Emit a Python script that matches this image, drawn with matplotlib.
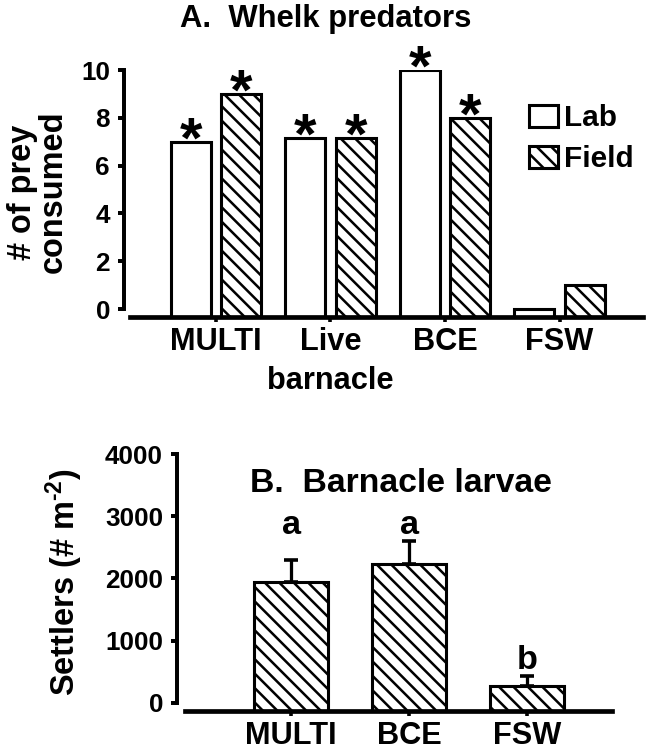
import matplotlib
matplotlib.use('Agg')
import matplotlib.pyplot as plt
import numpy as np
from matplotlib import transforms

# ---------------- data ----------------
# Panel A: whelk predators
cats_a = ['MULTI', 'Live\nbarnacle', 'BCE', 'FSW']
lab_a = [7.0, 7.15, 10.0, 0.0]
field_a = [9.0, 7.15, 8.0, 1.0]
sig_lab = ['*', '*', '*', '']
sig_field = ['*', '*', '*', '']
yticks_a = [0, 2, 4, 6, 8, 10]

# Panel B: barnacle larvae
cats_b = ['MULTI', 'BCE', 'FSW']
settlers = [1940, 2240, 270]
settlers_se = [350, 360, 165]
letters_b = ['a', 'a', 'b']
yticks_b = [0, 1000, 2000, 3000, 4000]

# ---------------- style ----------------
DPI = 130
W, H = 647, 750
plt.rcParams['font.family'] = ['Liberation Sans', 'DejaVu Sans']
plt.rcParams['font.weight'] = 'bold'
plt.rcParams['hatch.linewidth'] = 1.4
plt.rcParams['mathtext.fontset'] = 'custom'
plt.rcParams['mathtext.rm'] = 'Liberation Sans:bold'
plt.rcParams['mathtext.default'] = 'rm'

fig = plt.figure(figsize=(W / DPI, H / DPI), dpi=DPI)
fig.patch.set_facecolor('white')

HATCH = '\\\\\\'
EDGE_LW = 1.7


def fx(p):
    return p / W


def fy(p):
    return 1 - p / H


# ---------------- panel A ----------------
ax1 = fig.add_axes([fx(124), fy(317), fx(643) - fx(124), fy(70) - fy(317)])
xa = np.arange(len(cats_a))
wa = 0.35
off = 0.219
base_a = -0.33
lab_arr = np.array(lab_a)
field_arr = np.array(field_a)
b_lab = ax1.bar(xa - off, lab_arr - base_a, wa, bottom=base_a, facecolor='white',
                edgecolor='black', linewidth=EDGE_LW, label='Lab')
b_field = ax1.bar(xa + off, field_arr - base_a, wa, bottom=base_a, facecolor='white',
                  edgecolor='black', linewidth=EDGE_LW, hatch=HATCH, label='Field')

ax1.set_xlim(-0.803, 3.729)
ax1.set_ylim(base_a, 10)
for s in ['top', 'right']:
    ax1.spines[s].set_visible(False)
ax1.spines['left'].set_bounds(0, 10)
ax1.spines['left'].set_linewidth(2.2)
ax1.spines['bottom'].set_bounds(-0.752, 3.729)
ax1.spines['bottom'].set_linewidth(2.6)
ax1.set_yticks(yticks_a)
ax1.set_xticks(xa)
ax1.set_xticklabels(cats_a)
ax1.tick_params(axis='y', length=3.3, width=2.2, pad=4.4, labelsize=14.5)
ax1.tick_params(axis='x', length=2.5, width=2.0, pad=3, labelsize=17)
for lbl in ax1.get_xticklabels():
    lbl.set_linespacing(1.4)

star_tr = transforms.offset_copy(ax1.transData, fig=fig, y=-8.5, units='points')
for xi, v, s in zip(xa - off, lab_a, sig_lab):
    if s:
        ax1.text(xi, v, s, ha='center', va='baseline', fontsize=32,
                 transform=star_tr, clip_on=False)
for xi, v, s in zip(xa + off, field_a, sig_field):
    if s:
        ax1.text(xi, v, s, ha='center', va='baseline', fontsize=32,
                 transform=star_tr, clip_on=False)

ax1.legend(handles=[b_lab, b_field], loc='upper left',
           bbox_to_anchor=(fx(529), fy(104)), bbox_transform=fig.transFigure,
           frameon=False, fontsize=16.5, handlelength=0.98, handleheight=0.76,
           handletextpad=0.2, labelspacing=0.45, borderpad=0, borderaxespad=0)

fig.text(fx(326), fy(27), 'A.  Whelk predators', ha='center', va='baseline',
         fontsize=17.2, weight='bold')
fig.text(fx(38), fy(192), '# of prey\nconsumed', rotation=90, ha='center',
         va='center', fontsize=18, weight='bold', linespacing=1.0,
         multialignment='center')

# ---------------- panel B ----------------
ax2 = fig.add_axes([fx(177), fy(711), fx(612) - fx(177), fy(454) - fy(711)])
xb = np.arange(len(cats_b))
wb = 0.627
base_b = -129
set_arr = np.array(settlers)
se_arr = np.array(settlers_se)
ax2.bar(xb, set_arr - base_b, wb, bottom=base_b, facecolor='white',
        edgecolor='black', linewidth=EDGE_LW, hatch=HATCH)
ax2.errorbar(xb, set_arr, yerr=[np.zeros(len(xb)), se_arr], fmt='none',
             ecolor='black', elinewidth=1.8, capsize=4, capthick=2.0)

ax2.set_xlim(-0.966, 2.72)
ax2.set_ylim(base_b, 4000)
for s in ['top', 'right']:
    ax2.spines[s].set_visible(False)
ax2.spines['left'].set_bounds(0, 4000)
ax2.spines['left'].set_linewidth(2.2)
ax2.spines['bottom'].set_bounds(-0.898, 2.72)
ax2.spines['bottom'].set_linewidth(2.6)
ax2.set_yticks(yticks_b)
ax2.set_xticks(xb)
ax2.set_xticklabels(cats_b)
ax2.tick_params(axis='y', length=3.3, width=2.2, pad=4.4, labelsize=14.5)
ax2.tick_params(axis='x', length=2.5, width=2.0, pad=3, labelsize=17)

tops = set_arr + se_arr
for i, L in enumerate(letters_b):
    grp_top = max(t for t, l2 in zip(tops, letters_b) if l2 == L)
    ax2.text(xb[i], grp_top + 110, L, ha='center', va='baseline', fontsize=19,
             clip_on=False)

fig.text(fx(401), fy(492), 'B.  Barnacle larvae', ha='center', va='baseline',
         fontsize=18.7, weight='bold')
fig.text(fx(64), fy(582), 'Settlers (# m$^{\\text{-2}}$)', rotation=90, ha='center',
         va='center', fontsize=18, weight='bold')

fig.savefig('out.png', dpi=DPI, facecolor='white')
